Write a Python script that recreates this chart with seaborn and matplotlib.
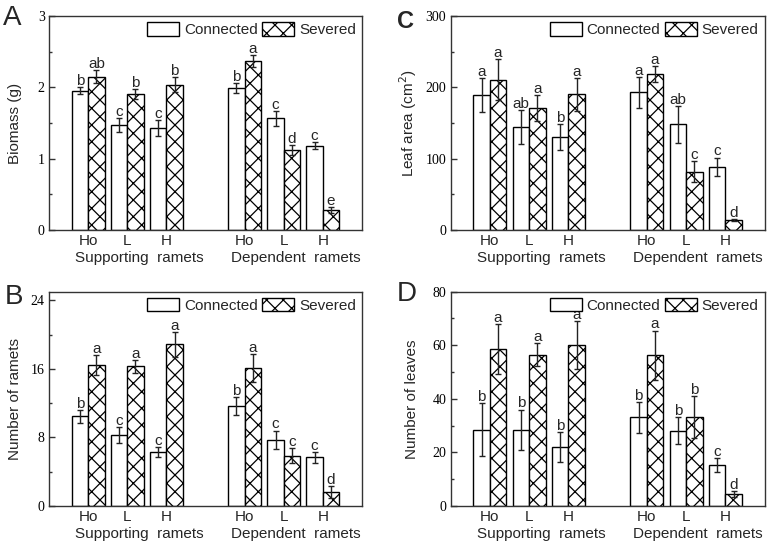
import numpy as np
import pandas as pd
import matplotlib
matplotlib.use('Agg')
import matplotlib.pyplot as plt
import seaborn as sns
from matplotlib.patches import Patch
from matplotlib.ticker import MultipleLocator

# categories
sites = ['Supporting'] * 3 + ['Dependent'] * 3
habitats = ['Ho', 'L', 'H'] * 2
treatments = ['Connected', 'Severed']

# A - biomass (g)
biomass_con = [1.95, 1.47, 1.43, 1.99, 1.565, 1.18]
biomass_con_se = [0.05, 0.10, 0.11, 0.075, 0.10, 0.05]
biomass_sev = [2.15, 1.90, 2.04, 2.37, 1.12, 0.285]
biomass_sev_se = [0.09, 0.07, 0.11, 0.08, 0.065, 0.04]
biomass_con_let = ['b', 'c', 'c', 'b', 'c', 'c']
biomass_sev_let = ['ab', 'b', 'b', 'a', 'd', 'e']

# B - number of ramets
ramets_con = [10.47, 8.28, 6.25, 11.64, 7.70, 5.66]
ramets_con_se = [0.76, 0.92, 0.59, 1.04, 1.10, 0.66]
ramets_sev = [16.48, 16.29, 18.87, 16.09, 5.86, 1.64]
ramets_sev_se = [1.17, 0.78, 1.46, 1.62, 0.88, 0.68]
ramets_con_let = ['b', 'c', 'c', 'b', 'c', 'c']
ramets_sev_let = ['a', 'a', 'a', 'a', 'c', 'd']

# C - leaf area (cm2)
area_con = [189, 144, 130, 193, 148, 89]
area_con_se = [24, 24, 18, 22, 26, 12.6]
area_sev = [211, 171, 190, 219, 82, 14]
area_sev_se = [29, 18, 23, 11, 14.5, 1.5]
area_con_let = ['a', 'ab', 'b', 'a', 'ab', 'c']
area_sev_let = ['a', 'a', 'a', 'a', 'c', 'd']

# D - number of leaves
leaves_con = [28.4, 28.4, 21.9, 33.1, 28.1, 15.25]
leaves_con_se = [9.9, 7.6, 5.6, 5.75, 5.0, 2.7]
leaves_sev = [58.5, 56.5, 60.0, 56.25, 33.1, 4.4]
leaves_sev_se = [9.4, 4.3, 9.0, 9.25, 7.8, 1.1]
leaves_con_let = ['b', 'b', 'b', 'b', 'b', 'c']
leaves_sev_let = ['a', 'a', 'a', 'a', 'b', 'd']

sns.set_style('ticks')
plt.rcParams['font.family'] = ['Liberation Sans', 'DejaVu Sans']
plt.rcParams['hatch.linewidth'] = 0.9
plt.rcParams['hatch.color'] = '#222222'

cats = [s + ' ' + h for s, h in zip(sites, habitats)]
order = cats[:3] + ['gap'] + cats[3:]
tick_labels = habitats[:3] + [''] + habitats[3:]


def draw_panel(ax, con, con_se, sev, sev_se, con_let, sev_let, ylabel, ymax, step, minor, lab_x):
    df = pd.DataFrame({'cat': cats * 2,
                       'treat': [treatments[0]] * 6 + [treatments[1]] * 6,
                       'val': con + sev})
    sns.barplot(data=df, x='cat', y='val', hue='treat', order=order, hue_order=treatments,
                width=0.84, errorbar=None, palette=['white', 'white'], edgecolor='black',
                linewidth=1, legend=False, ax=ax, zorder=2)
    for cont, se, let, hatch in zip(ax.containers, [con_se, sev_se], [con_let, sev_let], ['', 'xx']):
        bars = sorted(cont.patches, key=lambda p: p.get_x())
        xs = [b.get_x() + b.get_width() / 2 for b in bars]
        ys = [b.get_height() for b in bars]
        for b in bars:
            b.set_hatch(hatch)
        ax.errorbar(xs, ys, yerr=se, fmt='none', ecolor='#222222', elinewidth=1,
                    capsize=2.5, capthick=1, zorder=3)
        for x, y, e, l in zip(xs, ys, se, let):
            ax.annotate(l, (x, y + e), xytext=(0, 1.5), textcoords='offset points',
                        ha='center', va='baseline', fontsize=11)

    ax.set_xlim(-1, 7)
    ax.set_ylim(0, ymax)
    ax.set_xticks(range(len(order)))
    ax.set_xticklabels(tick_labels, fontsize=11)
    ax.set_yticks(np.arange(0, ymax + 0.001, step))
    ax.yaxis.set_minor_locator(MultipleLocator(minor))
    ax.tick_params(axis='x', length=0, pad=3)
    ax.tick_params(axis='y', which='major', direction='in', length=4, width=1,
                   labelsize=10, pad=3, colors='#333333', labelcolor='black')
    ax.tick_params(axis='y', which='minor', direction='in', length=2, width=1, colors='#333333')
    for lbl in ax.get_yticklabels():
        lbl.set_fontfamily('Liberation Serif')
    ax.set_xlabel('')
    ax.set_ylabel(ylabel, fontsize=11)
    ax.yaxis.set_label_coords(lab_x, 0.5)
    for sp in ax.spines.values():
        sp.set_color('#333333')
        sp.set_linewidth(1)

    trans = ax.get_xaxis_transform()
    for xc, txt in [(1.3, 'Supporting  ramets'), (5.3, 'Dependent  ramets')]:
        ax.annotate(txt, (xc, 0), xycoords=trans, xytext=(0, -15), textcoords='offset points',
                    ha='center', va='top', fontsize=11)

    handles = [Patch(facecolor='white', edgecolor='black', linewidth=1, label=treatments[0]),
               Patch(facecolor='white', edgecolor='black', linewidth=1, hatch='xx', label=treatments[1])]
    ax.legend(handles=handles, loc='upper right', ncol=2, frameon=False, fontsize=11,
              handlelength=2.1, handleheight=1.0, handletextpad=0.3, columnspacing=0.3,
              borderaxespad=0.2, borderpad=0.2)


fig = plt.figure(figsize=(7.67, 5.47), dpi=100)
axA = fig.add_axes([0.0639, 0.5795, 0.4081, 0.3912])
axC = fig.add_axes([0.5874, 0.5795, 0.4094, 0.3912])
axB = fig.add_axes([0.0639, 0.0750, 0.4081, 0.3918])
axD = fig.add_axes([0.5874, 0.0750, 0.4094, 0.3918])

draw_panel(axA, biomass_con, biomass_con_se, biomass_sev, biomass_sev_se,
           biomass_con_let, biomass_sev_let, 'Biomass (g)', 3, 1, 0.5, -0.085)
draw_panel(axB, ramets_con, ramets_con_se, ramets_sev, ramets_sev_se,
           ramets_con_let, ramets_sev_let, 'Number of ramets', 25, 8, 4, -0.085)
axB.set_yticks([0, 8, 16, 24])
for lbl in axB.get_yticklabels():
    lbl.set_fontfamily('Liberation Serif')
draw_panel(axC, area_con, area_con_se, area_sev, area_sev_se,
           area_con_let, area_sev_let, 'Leaf area (cm$^2$)', 300, 100, 50, -0.1)
draw_panel(axD, leaves_con, leaves_con_se, leaves_sev, leaves_sev_se,
           leaves_con_let, leaves_sev_let, 'Number of leaves', 80, 20, 10, -0.1)

fig.text(0.004, 0.991, 'A', fontsize=20, va='top', ha='left')
fig.text(0.006, 0.481, 'B', fontsize=20, va='top', ha='left')
fig.text(0.5176, 0.982, 'C', fontsize=17, fontweight='bold', va='top', ha='left')
fig.text(0.5176, 0.486, 'D', fontsize=20, va='top', ha='left')

fig.savefig('out.png', dpi=100)
